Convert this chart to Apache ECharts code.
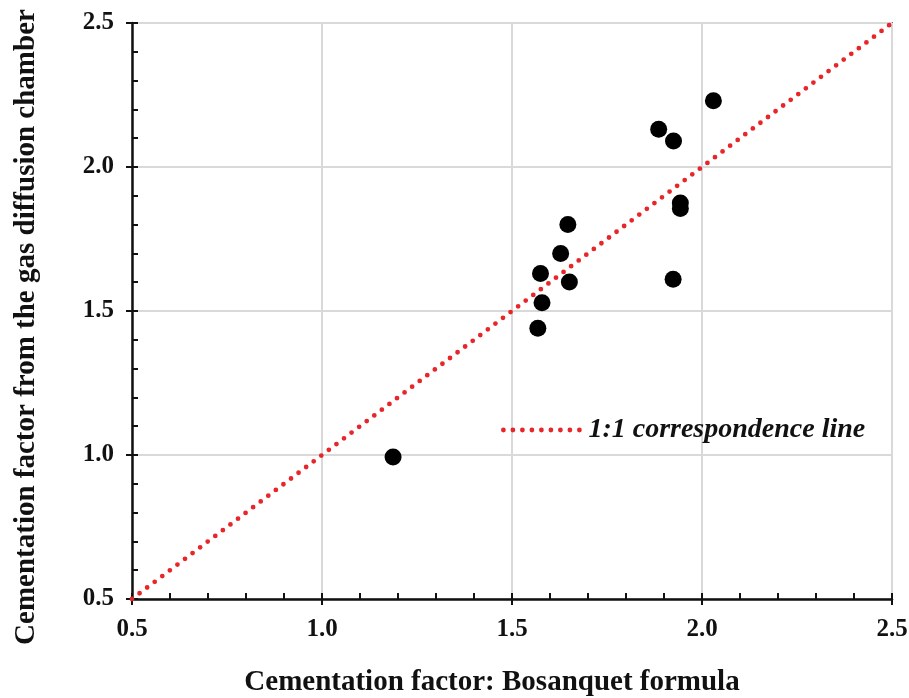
<!DOCTYPE html>
<html>
<head>
<meta charset="utf-8">
<style>html,body{margin:0;padding:0;background:#fff;}#c{width:909px;height:698px;}</style>
<script src="https://cdn.jsdelivr.net/npm/echarts@6/dist/echarts.min.js"></script>
</head>
<body>
<div id="c"></div>
<script>
var bosanquet = [1.187, 2.030, 1.886, 1.925, 1.943, 1.943, 1.647, 1.628, 1.575, 1.651, 1.579, 1.568, 1.924];
var chamber   = [0.993, 2.230, 2.131, 2.090, 1.875, 1.856, 1.800, 1.700, 1.630, 1.601, 1.529, 1.440, 1.610];
var lineX = [0.5, 2.5];
var lineY = [0.5, 2.5];
var xTitle = 'Cementation factor: Bosanquet formula';
var yTitle = 'Cementation factor from the gas diffusion chamber';
var lineName = '1:1 correspondence line';

var font = '"Liberation Serif", "Times New Roman", serif';
var red = '#e8262a';
var chart = echarts.init(document.getElementById('c'));
var pts = bosanquet.map(function (x, i) { return [x, chamber[i]]; });
var diag = lineX.map(function (x, i) { return [x, lineY[i]]; });
function lbl(v) { return v.toFixed(1); }
var baseAxis = { type: 'value', min: 0.5, max: 2.5, interval: 0.5 };
chart.setOption({
  animation: false,
  backgroundColor: '#fff',
  grid: { left: 132, right: 17, top: 23, bottom: 99, containLabel: false, outerBoundsMode: 'none', show: true, borderColor: '#111', borderWidth: 1.5, backgroundColor: 'transparent' },
  legend: {
    left: 496, top: 411,
    itemWidth: 80, itemHeight: 14, itemGap: 14,
    data: [{ name: lineName }],
    itemStyle: { opacity: 0 },
    lineStyle: { color: red, width: 4.8, type: [0, 9.5], cap: 'round' },
    textStyle: { fontFamily: font, fontWeight: 'bold', fontStyle: 'italic', fontSize: 28, color: '#111' }
  },
  xAxis: [
    Object.assign({}, baseAxis, {
      position: 'bottom',
      name: xTitle, nameLocation: 'middle', nameGap: 69,
      nameTextStyle: { fontFamily: font, fontWeight: 'bold', fontSize: 29, color: '#111', padding: [0, 40, 0, 0] },
      axisLine: { show: true, onZero: false, lineStyle: { color: '#111', width: 2.5 } },
      axisTick: { show: true, inside: false, length: 6, lineStyle: { color: '#111', width: 2 } },
      axisLabel: { fontFamily: font, fontWeight: 'bold', fontSize: 25, color: '#111', margin: 18, formatter: lbl },
      splitLine: { show: true, lineStyle: { color: '#d9d9d9', width: 2 } }
    }),
    Object.assign({}, baseAxis, {
      position: 'bottom',
      axisLine: { show: false, onZero: false },
      axisTick: { show: true, inside: true, length: 6, lineStyle: { color: '#111', width: 2 } },
      minorTick: { show: true, splitNumber: 5, length: 6, lineStyle: { color: '#111', width: 2 } },
      axisLabel: { show: false },
      splitLine: { show: false }
    })
  ],
  yAxis: [
    Object.assign({}, baseAxis, {
      position: 'left',
      name: yTitle, nameLocation: 'middle', nameGap: 91,
      nameTextStyle: { fontFamily: font, fontWeight: 'bold', fontSize: 29, color: '#111', padding: [0, 32, 0, 0] },
      axisLine: { show: true, onZero: false, lineStyle: { color: '#111', width: 2.5 } },
      axisTick: { show: true, inside: false, length: 6, lineStyle: { color: '#111', width: 2 } },
      axisLabel: { fontFamily: font, fontWeight: 'bold', fontSize: 25, color: '#111', margin: 18, formatter: lbl },
      splitLine: { show: true, lineStyle: { color: '#d9d9d9', width: 2 } }
    }),
    Object.assign({}, baseAxis, {
      position: 'left',
      axisLine: { show: false, onZero: false },
      axisTick: { show: true, inside: true, length: 6, lineStyle: { color: '#111', width: 2 } },
      minorTick: { show: true, splitNumber: 5, length: 6, lineStyle: { color: '#111', width: 2 } },
      axisLabel: { show: false },
      splitLine: { show: false }
    })
  ],
  series: [
    {
      name: lineName, type: 'line', data: diag, showSymbol: false, symbol: 'none',
      lineStyle: { color: red, width: 4.8, type: [0, 9.5], cap: 'round' },
      itemStyle: { color: red },
      z: 3, silent: true
    },
    {
      name: 'data', type: 'scatter', data: pts, symbol: 'circle', symbolSize: 17,
      itemStyle: { color: '#000', opacity: 1 }, z: 4
    }
  ]
});
</script>
</body>
</html>
